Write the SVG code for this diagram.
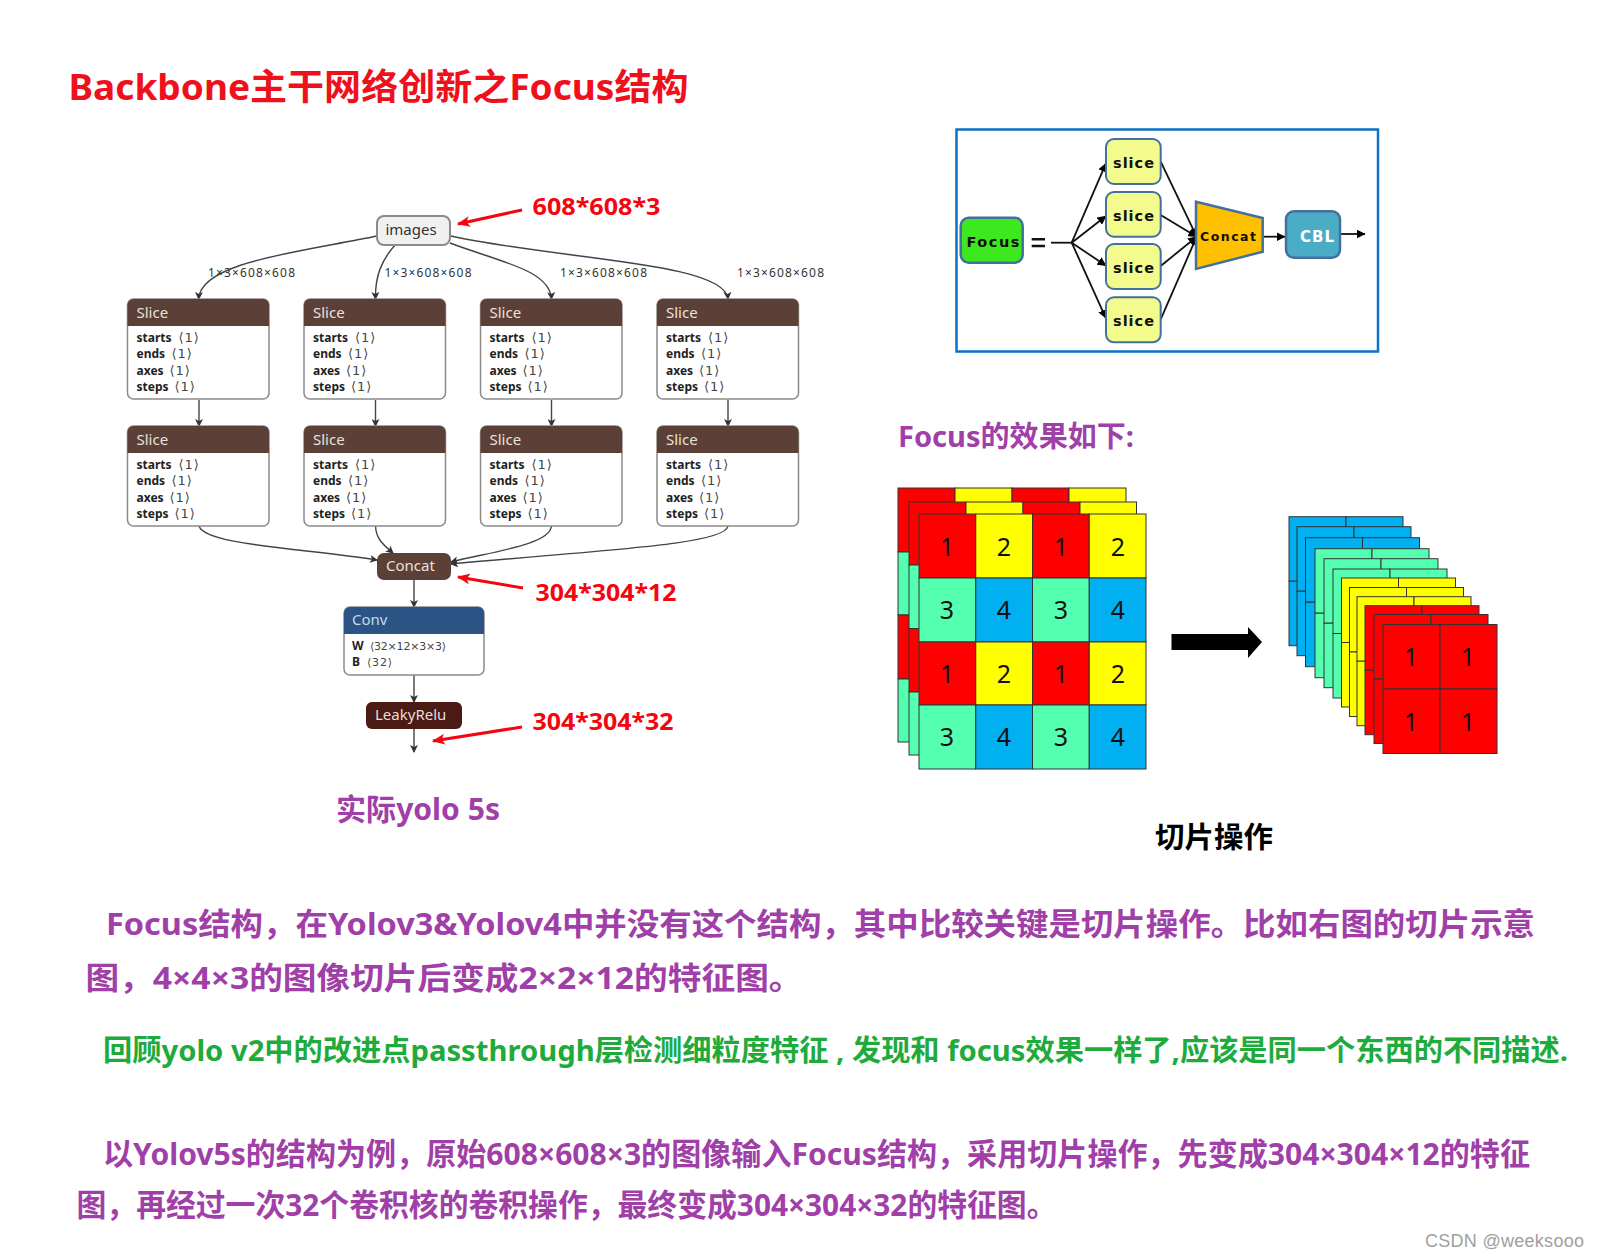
<svg xmlns="http://www.w3.org/2000/svg" width="1599" height="1257" viewBox="0 0 1599 1257">
<style>
text{font-family:"Noto Sans","Noto Sans CJK SC",sans-serif}
.cjk{font-family:"Noto Sans","Noto Sans CJK SC",sans-serif;font-weight:700}
.title{font-size:36px;fill:#f0101c}
.red{font-size:24px;fill:#f5050f}
.pur{fill:#a03fa8}
.p{font-size:31px}
.grn{font-size:29px;fill:#1fab3c}
.box{fill:#fff;stroke:#8a8a8a;stroke-width:1.5}
.hd{fill:#5c4037}
.ht{font-size:15px;fill:#e8e2dc}
.k{font-size:12px;font-weight:700;fill:#222}
.v{font-size:13px;fill:#444;letter-spacing:1px;font-family:"DejaVu Sans",sans-serif}
.dim{font-size:12px;fill:#333}
.e{fill:none;stroke:#444;stroke-width:1.4}
.ea{marker-end:url(#g)}
.ra{stroke:#f5050f;stroke-width:3;fill:none;marker-end:url(#r)}
.k2{stroke:#111;stroke-width:1.8;fill:none;marker-end:url(#b)}
.k3{stroke:#111;stroke-width:1.8;fill:none}
.sl{fill:#f3fb8c;stroke:#41719c;stroke-width:2}
.st{font-family:"DejaVu Sans",sans-serif;font-weight:700;font-size:14.500px;fill:#111;text-anchor:middle}
.c{stroke:#333;stroke-width:1}
.n{font-family:"Noto Sans",sans-serif;font-size:25px;fill:#111;text-anchor:middle}
.R{fill:#ff0000}.Y{fill:#ffff00}.G{fill:#55ffb0}.B{fill:#00b0f0}
</style>
<defs>
<marker id="g" viewBox="0 0 8 8" refX="7" refY="4" markerWidth="8" markerHeight="8" markerUnits="userSpaceOnUse" orient="auto"><path d="M0 0L8 4L0 8L2 4Z" fill="#333"/></marker>
<marker id="b" viewBox="0 0 8 8" refX="7.5" refY="4" markerWidth="9" markerHeight="9" markerUnits="userSpaceOnUse" orient="auto"><path d="M0 0L8 4L0 8Z" fill="#000"/></marker>
<marker id="r" viewBox="0 0 12 10" refX="11" refY="5" markerWidth="13" markerHeight="11" markerUnits="userSpaceOnUse" orient="auto"><path d="M0 0L12 5L0 10L3 5Z" fill="#f5050f"/></marker>
<g id="sb"><rect class="box" x="0" y="0" width="141.500" height="100" rx="6"/><path class="hd" d="M0 27V6a6 6 0 0 1 6-6H135.500a6 6 0 0 1 6 6V27Z"/></g>
<g id="layer" class="c"><rect x="0" y="0" width="57" height="64.500"/><rect x="57" y="0" width="57" height="64.500"/><rect x="0" y="64.500" width="57" height="64.500"/><rect x="57" y="64.500" width="57" height="64.500"/></g>
</defs>
<rect width="1599" height="1257" fill="#fff"/>
<text class="cjk title" x="68.500" y="100" textLength="620" lengthAdjust="spacingAndGlyphs">Backbone主干网络创新之Focus结构</text>

<g id="connectors">
<path class="e ea" d="M377 236C300 252 200 262 198.700 299"/>
<path class="e ea" d="M395 245C382 260 375 275 375.500 299"/>
<path class="e ea" d="M450 243C500 262 550 270 551.500 299"/>
<path class="e ea" d="M451 236C560 260 725 262 728 299"/>
<path class="e ea" d="M199 400V426"/><path class="e ea" d="M375.500 400V426"/><path class="e ea" d="M551.500 400V426"/><path class="e ea" d="M728 400V426"/>
<path class="e ea" d="M199 526C205 545 300 548 377 560"/>
<path class="e ea" d="M375.500 526C376 540 385 546 393 553"/>
<path class="e ea" d="M551.500 526C550 545 490 552 451 562"/>
<path class="e ea" d="M728 526C725 545 600 550 451 564"/>
<path class="e ea" d="M414 580V607"/><path class="e ea" d="M414 675V702"/><path class="e ea" d="M414 729V752"/>
<path class="ra" d="M522 210L458 224"/><path class="ra" d="M523 588L458 577"/><path class="ra" d="M522 727L433 741"/>
<path class="k3" d="M1051 242.700H1071.700"/>
<path class="k2" d="M1071.700 242.700L1106 163.300"/><path class="k2" d="M1071.700 242.700L1106 216"/><path class="k2" d="M1071.700 242.700L1106 265.700"/><path class="k2" d="M1071.700 242.700L1106 318.300"/>
<path class="k2" d="M1160.700 161.700L1196.700 236.700"/><path class="k2" d="M1160.700 215L1196.700 236.700"/><path class="k2" d="M1160.700 266L1196.700 236.700"/><path class="k2" d="M1160.700 319.300L1196.700 236.700"/>
<path class="k2" d="M1260.700 236.700H1285"/><path class="k2" d="M1340 234H1365"/>
</g>

<g id="images"><rect x="377" y="216" width="73" height="29" rx="7" fill="#f0f0f0" stroke="#8a8a8a" stroke-width="2"/><text x="411" y="235" font-size="15" fill="#333" text-anchor="middle">images</text></g>
<text class="cjk red" x="532.500" y="215" textLength="128" lengthAdjust="spacingAndGlyphs">608*608*3</text>
<text class="dim" x="208" y="277" textLength="87">1×3×608×608</text>
<text class="dim" x="384.500" y="277" textLength="87">1×3×608×608</text>
<text class="dim" x="560" y="277" textLength="87">1×3×608×608</text>
<text class="dim" x="737" y="277" textLength="87">1×3×608×608</text>

<g id="slice1" transform="translate(127.500 299)"><use href="#sb"/><text class="ht" x="9" y="19">Slice</text><text class="k" x="9" y="43">starts</text><text class="v" x="51" y="43">⟨1⟩</text><text class="k" x="9" y="59">ends</text><text class="v" x="44" y="59">⟨1⟩</text><text class="k" x="9" y="75.500">axes</text><text class="v" x="42" y="75.500">⟨1⟩</text><text class="k" x="9" y="92">steps</text><text class="v" x="47" y="92">⟨1⟩</text></g>
<g id="slice2" transform="translate(304 299)"><use href="#sb"/><text class="ht" x="9" y="19">Slice</text><text class="k" x="9" y="43">starts</text><text class="v" x="51" y="43">⟨1⟩</text><text class="k" x="9" y="59">ends</text><text class="v" x="44" y="59">⟨1⟩</text><text class="k" x="9" y="75.500">axes</text><text class="v" x="42" y="75.500">⟨1⟩</text><text class="k" x="9" y="92">steps</text><text class="v" x="47" y="92">⟨1⟩</text></g>
<g id="slice3" transform="translate(480.500 299)"><use href="#sb"/><text class="ht" x="9" y="19">Slice</text><text class="k" x="9" y="43">starts</text><text class="v" x="51" y="43">⟨1⟩</text><text class="k" x="9" y="59">ends</text><text class="v" x="44" y="59">⟨1⟩</text><text class="k" x="9" y="75.500">axes</text><text class="v" x="42" y="75.500">⟨1⟩</text><text class="k" x="9" y="92">steps</text><text class="v" x="47" y="92">⟨1⟩</text></g>
<g id="slice4" transform="translate(657 299)"><use href="#sb"/><text class="ht" x="9" y="19">Slice</text><text class="k" x="9" y="43">starts</text><text class="v" x="51" y="43">⟨1⟩</text><text class="k" x="9" y="59">ends</text><text class="v" x="44" y="59">⟨1⟩</text><text class="k" x="9" y="75.500">axes</text><text class="v" x="42" y="75.500">⟨1⟩</text><text class="k" x="9" y="92">steps</text><text class="v" x="47" y="92">⟨1⟩</text></g>
<g id="slice5" transform="translate(127.500 426)"><use href="#sb"/><text class="ht" x="9" y="19">Slice</text><text class="k" x="9" y="43">starts</text><text class="v" x="51" y="43">⟨1⟩</text><text class="k" x="9" y="59">ends</text><text class="v" x="44" y="59">⟨1⟩</text><text class="k" x="9" y="75.500">axes</text><text class="v" x="42" y="75.500">⟨1⟩</text><text class="k" x="9" y="92">steps</text><text class="v" x="47" y="92">⟨1⟩</text></g>
<g id="slice6" transform="translate(304 426)"><use href="#sb"/><text class="ht" x="9" y="19">Slice</text><text class="k" x="9" y="43">starts</text><text class="v" x="51" y="43">⟨1⟩</text><text class="k" x="9" y="59">ends</text><text class="v" x="44" y="59">⟨1⟩</text><text class="k" x="9" y="75.500">axes</text><text class="v" x="42" y="75.500">⟨1⟩</text><text class="k" x="9" y="92">steps</text><text class="v" x="47" y="92">⟨1⟩</text></g>
<g id="slice7" transform="translate(480.500 426)"><use href="#sb"/><text class="ht" x="9" y="19">Slice</text><text class="k" x="9" y="43">starts</text><text class="v" x="51" y="43">⟨1⟩</text><text class="k" x="9" y="59">ends</text><text class="v" x="44" y="59">⟨1⟩</text><text class="k" x="9" y="75.500">axes</text><text class="v" x="42" y="75.500">⟨1⟩</text><text class="k" x="9" y="92">steps</text><text class="v" x="47" y="92">⟨1⟩</text></g>
<g id="slice8" transform="translate(657 426)"><use href="#sb"/><text class="ht" x="9" y="19">Slice</text><text class="k" x="9" y="43">starts</text><text class="v" x="51" y="43">⟨1⟩</text><text class="k" x="9" y="59">ends</text><text class="v" x="44" y="59">⟨1⟩</text><text class="k" x="9" y="75.500">axes</text><text class="v" x="42" y="75.500">⟨1⟩</text><text class="k" x="9" y="92">steps</text><text class="v" x="47" y="92">⟨1⟩</text></g>

<g id="concat"><rect class="hd" x="377" y="553" width="74" height="27" rx="7"/><text x="386" y="571" font-size="15" fill="#e8e2dc">Concat</text></g>
<text class="cjk red" x="535.500" y="600.500" textLength="141" lengthAdjust="spacingAndGlyphs">304*304*12</text>
<g id="conv"><rect class="box" x="344" y="607" width="140" height="68" rx="6"/><path fill="#2b5484" d="M344 634V613a6 6 0 0 1 6-6H478a6 6 0 0 1 6 6V634Z"/><text x="352" y="625" font-size="15" fill="#c8d8e8">Conv</text><text class="k" x="352" y="650">W</text><text class="v" x="370" y="650" style="font-size:11px;letter-spacing:0" textLength="76">⟨32×12×3×3⟩</text><text class="k" x="352" y="666">B</text><text class="v" x="367" y="666" style="font-size:11px;letter-spacing:.8px">⟨32⟩</text></g>
<g id="leakyrelu"><rect x="366" y="702" width="96" height="27" rx="6" fill="#4b1a14"/><text x="375" y="720" font-size="15" fill="#e8dcd8">LeakyRelu</text></g>
<text class="cjk red" x="532.500" y="729.500" textLength="141" lengthAdjust="spacingAndGlyphs">304*304*32</text>
<text class="cjk pur" x="336" y="820" font-size="30" textLength="164" lengthAdjust="spacingAndGlyphs">实际yolo 5s</text>

<g id="focus-diagram">
<rect x="956.500" y="129.500" width="421.500" height="222" fill="none" stroke="#0d72c4" stroke-width="2.500"/>
<g id="focus"><rect x="960.700" y="217.700" width="62" height="45" rx="8" fill="#3ee81e" stroke="#41719c" stroke-width="2.500"/><text class="st" x="993" y="247" textLength="53">Focus</text></g>
<path d="M1031.700 239.300H1045M1031.700 246H1045" stroke="#111" stroke-width="2.500"/>
<g id="s1"><rect class="sl" x="1106" y="139" width="54.700" height="45" rx="8"/><text class="st" x="1133.500" y="168" textLength="41">slice</text></g>
<g id="s2"><rect class="sl" x="1106" y="192" width="54.700" height="44.700" rx="8"/><text class="st" x="1133.500" y="221" textLength="41">slice</text></g>
<g id="s3"><rect class="sl" x="1106" y="244" width="54.700" height="45" rx="8"/><text class="st" x="1133.500" y="273" textLength="41">slice</text></g>
<g id="s4"><rect class="sl" x="1106" y="297.300" width="54.700" height="45" rx="8"/><text class="st" x="1133.500" y="326" textLength="41">slice</text></g>
<g id="cc"><path d="M1196 201.700L1262.700 218V251.700L1196 269Z" fill="#ffc000" stroke="#41719c" stroke-width="2.500"/><text class="st" x="1228" y="241" style="font-size:12.500px" textLength="56">Concat</text></g>
<g id="cbl"><rect x="1286" y="211.300" width="54" height="46.400" rx="8" fill="#4bacc6" stroke="#41719c" stroke-width="2.500"/><text class="st" x="1317" y="242" style="fill:#fff;font-size:15px" textLength="34">CBL</text></g>
</g>

<text class="cjk pur" x="898" y="447" font-size="29" textLength="236" lengthAdjust="spacingAndGlyphs">Focus的效果如下:</text>

<g id="grid-input">
<g class="c">
<rect class="R" x="898" y="488" width="57" height="64"/><rect class="Y" x="955" y="488" width="57" height="64"/><rect class="R" x="1012" y="488" width="57" height="64"/><rect class="Y" x="1069" y="488" width="57" height="64"/>
<rect class="G" x="898" y="552" width="57" height="63"/><rect class="R" x="898" y="615" width="57" height="64"/><rect class="G" x="898" y="679" width="57" height="63"/>
<rect class="R" x="909" y="502" width="57" height="63"/><rect class="Y" x="966" y="502" width="57" height="63"/><rect class="R" x="1023" y="502" width="57" height="63"/><rect class="Y" x="1080" y="502" width="56.500" height="63"/>
<rect class="G" x="909" y="565" width="57" height="63.500"/><rect class="R" x="909" y="628.500" width="57" height="63.500"/><rect class="G" x="909" y="692" width="57" height="63"/>
<rect class="R" x="919" y="514" width="56.750" height="64"/><rect class="Y" x="975.750" y="514" width="56.750" height="64"/><rect class="R" x="1032.500" y="514" width="56.750" height="64"/><rect class="Y" x="1089.250" y="514" width="56.750" height="64"/>
<rect class="G" x="919" y="578" width="56.750" height="64"/><rect class="B" x="975.750" y="578" width="56.750" height="64"/><rect class="G" x="1032.500" y="578" width="56.750" height="64"/><rect class="B" x="1089.250" y="578" width="56.750" height="64"/>
<rect class="R" x="919" y="642" width="56.750" height="63"/><rect class="Y" x="975.750" y="642" width="56.750" height="63"/><rect class="R" x="1032.500" y="642" width="56.750" height="63"/><rect class="Y" x="1089.250" y="642" width="56.750" height="63"/>
<rect class="G" x="919" y="705" width="56.750" height="64"/><rect class="B" x="975.750" y="705" width="56.750" height="64"/><rect class="G" x="1032.500" y="705" width="56.750" height="64"/><rect class="B" x="1089.250" y="705" width="56.750" height="64"/>
</g>
<text class="n" x="947" y="556">1</text><text class="n" x="1004" y="556">2</text><text class="n" x="1061" y="556">1</text><text class="n" x="1118" y="556">2</text>
<text class="n" x="947" y="619">3</text><text class="n" x="1004" y="619">4</text><text class="n" x="1061" y="619">3</text><text class="n" x="1118" y="619">4</text>
<text class="n" x="947" y="683">1</text><text class="n" x="1004" y="683">2</text><text class="n" x="1061" y="683">1</text><text class="n" x="1118" y="683">2</text>
<text class="n" x="947" y="746">3</text><text class="n" x="1004" y="746">4</text><text class="n" x="1061" y="746">3</text><text class="n" x="1118" y="746">4</text>
</g>

<path id="big-arrow" d="M1171.500 634H1248V627L1262 642L1248 658V650H1171.500Z" fill="#000"/>

<g id="grid-output">
<use href="#layer" class="B" x="1289" y="516.700"/><use href="#layer" class="B" x="1297" y="526.700"/><use href="#layer" class="B" x="1305.500" y="537.700"/>
<use href="#layer" class="G" x="1315" y="548.700"/><use href="#layer" class="G" x="1324" y="558.700"/><use href="#layer" class="G" x="1333" y="569"/>
<use href="#layer" class="Y" x="1341.500" y="578"/><use href="#layer" class="Y" x="1349.500" y="587.500"/><use href="#layer" class="Y" x="1357" y="596.700"/>
<use href="#layer" class="R" x="1365" y="605.700"/><use href="#layer" class="R" x="1374" y="614.500"/><use href="#layer" class="R" x="1383" y="624.500"/>
<text class="n" x="1411" y="666">1</text><text class="n" x="1468" y="666">1</text><text class="n" x="1411" y="731">1</text><text class="n" x="1468" y="731">1</text>
</g>

<text class="cjk" x="1155" y="848" font-size="29" fill="#000" textLength="118" lengthAdjust="spacingAndGlyphs">切片操作</text>

<text class="cjk pur p" x="106" y="935" textLength="1429" lengthAdjust="spacingAndGlyphs">Focus结构，在Yolov3&amp;Yolov4中并没有这个结构，其中比较关键是切片操作。比如右图的切片示意</text>
<text class="cjk pur p" x="85.500" y="989" textLength="717" lengthAdjust="spacingAndGlyphs">图，4×4×3的图像切片后变成2×2×12的特征图。</text>
<text class="cjk grn" x="103" y="1061" textLength="1465" lengthAdjust="spacingAndGlyphs">回顾yolo v2中的改进点passthrough层检测细粒度特征 , 发现和 focus效果一样了,应该是同一个东西的不同描述.</text>
<text class="cjk pur p" x="103" y="1165" textLength="1427" lengthAdjust="spacingAndGlyphs">以Yolov5s的结构为例，原始608×608×3的图像输入Focus结构，采用切片操作，先变成304×304×12的特征</text>
<text class="cjk pur p" x="76.500" y="1216" textLength="980" lengthAdjust="spacingAndGlyphs">图，再经过一次32个卷积核的卷积操作，最终变成304×304×32的特征图。</text>
<text x="1425" y="1247" font-size="18" fill="#a0a0a0" style="font-family:'Liberation Sans',sans-serif" textLength="159">CSDN @weeksooo</text>
</svg>
